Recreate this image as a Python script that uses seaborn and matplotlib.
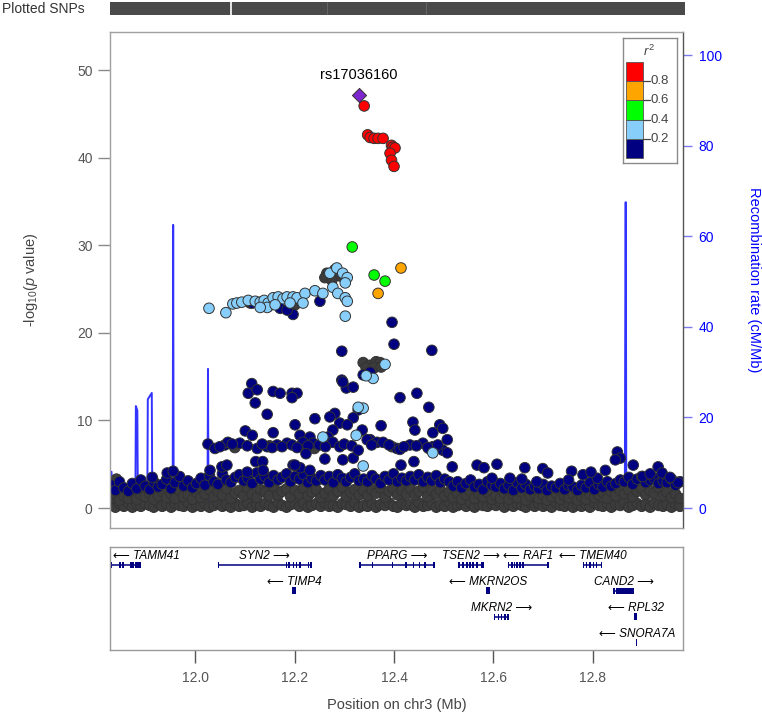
import matplotlib
matplotlib.use("Agg")
import matplotlib.pyplot as plt
import pandas as pd
import seaborn as sns

# ---------------- data ----------------
lead_snp = "rs17036160"
lead_pos = [12.330]
lead_val = [47.1]

red_pos = [12.340, 12.347, 12.352, 12.360, 12.368, 12.378, 12.395, 12.398, 12.402, 12.392, 12.395, 12.400]
red_val = [45.9, 42.6, 42.3, 42.2, 42.2, 42.2, 41.4, 41.2, 41.1, 40.5, 39.7, 39.0]

orange_pos = [12.414, 12.368]
orange_val = [27.4, 24.5]

green_pos = [12.316, 12.360, 12.382]
green_val = [29.8, 26.6, 25.9]

lblue_pos = [12.028, 12.062, 12.076, 12.084, 12.094, 12.107, 12.121, 12.131, 12.139, 12.147,
             12.157, 12.167, 12.177, 12.185, 12.197, 12.205, 12.221, 12.241, 12.257, 12.217,
             12.145, 12.131, 12.191, 12.161, 12.271, 12.285, 12.297, 12.306, 12.277, 12.287,
             12.302, 12.306, 12.302, 12.302, 12.382, 12.358, 12.344, 12.338, 12.257, 12.324,
             12.338, 12.478, 12.328]
lblue_val = [22.8, 22.3, 23.3, 23.4, 23.5, 23.7, 23.6, 23.5, 23.7, 23.4,
             24.0, 24.1, 23.9, 24.1, 24.1, 24.0, 24.5, 24.8, 24.5, 23.4,
             22.9, 22.9, 23.4, 23.2, 26.8, 27.4, 26.8, 26.3, 25.2, 24.5,
             24.0, 23.6, 21.9, 25.7, 16.4, 14.8, 15.1, 11.4, 8.1, 8.3,
             4.8, 6.3, 11.5]

navy_pos = [12.115, 12.171, 12.197, 12.185, 12.251, 12.396, 12.295, 12.400, 12.476, 12.295,
            12.304, 12.338, 12.352,
            12.114, 12.107, 12.125, 12.121, 12.157, 12.171, 12.195, 12.205, 12.195, 12.145,
            12.297, 12.318, 12.328, 12.281, 12.271, 12.318, 12.241, 12.201, 12.291, 12.306,
            12.412, 12.446, 12.470, 12.374, 12.438, 12.442, 12.492, 12.498, 12.478, 12.507,
            12.101, 12.115, 12.157, 12.211, 12.231, 12.277, 12.267, 12.336, 12.352,
            12.026, 12.040, 12.060, 12.066, 12.090, 12.125, 12.145, 12.165, 12.185, 12.217,
            12.237, 12.277, 12.291, 12.346, 12.366, 12.378, 12.406, 12.412, 12.432, 12.458,
            12.478, 12.498, 12.507, 12.050, 12.075, 12.105, 12.135, 12.155, 12.175, 12.195,
            12.205, 12.227, 12.250, 12.262, 12.300, 12.315, 12.355, 12.390, 12.420, 12.445,
            12.468, 12.488,
            12.223, 12.122, 12.136, 12.197, 12.211, 12.231, 12.261, 12.297, 12.318, 12.328,
            12.414, 12.440, 12.517, 12.567, 12.581, 12.607, 12.663, 12.699, 12.709, 12.757,
            12.657, 12.597, 12.633, 12.687, 12.751, 12.809,
            11.914, 11.944, 11.956, 12.030, 12.054, 12.064, 12.105, 12.137, 12.201,
            12.849, 12.855, 12.845, 12.881, 12.931, 12.939, 12.971, 12.825, 12.780, 12.796,
            12.900, 12.915, 12.955]
navy_val = [23.4, 22.8, 22.1, 22.6, 23.6, 21.2, 17.9, 18.7, 18.0, 14.6,
            13.7, 15.2, 15.5,
            14.2, 13.1, 13.5, 12.0, 13.3, 13.1, 13.1, 13.1, 12.6, 10.7,
            14.4, 13.8, 11.2, 10.8, 10.4, 10.3, 10.2, 9.5, 9.7, 9.5,
            12.6, 13.1, 11.5, 9.4, 9.8, 8.9, 9.5, 9.1, 8.6, 7.8,
            8.8, 8.3, 8.6, 8.3, 8.1, 8.9, 8.1, 8.9, 7.8,
            7.3, 6.8, 7.2, 7.5, 7.4, 6.8, 7.0, 7.2, 7.4, 7.5,
            7.4, 7.5, 7.0, 7.8, 7.5, 7.5, 6.8, 6.7, 7.2, 7.4,
            7.0, 6.6, 6.3, 7.0, 7.3, 7.1, 7.3, 6.9, 7.0, 7.2,
            6.9, 7.1, 7.2, 7.0, 7.3, 7.1, 7.2, 7.2, 7.0, 7.1,
            6.9, 7.2,
            6.2, 5.3, 5.3, 4.9, 4.6, 4.3, 5.6, 5.5, 5.7, 6.6,
            4.9, 5.3, 4.7, 4.9, 4.6, 5.0, 4.6, 4.5, 4.0, 4.2,
            3.3, 3.4, 3.4, 3.0, 3.2, 3.4,
            3.5, 4.0, 4.2, 4.3, 4.7, 4.9, 4.1, 4.3, 4.9,
            6.4, 5.7, 5.5, 4.9, 4.7, 4.0, 2.9, 4.3, 3.8, 4.1,
            3.6, 3.9, 3.5]

na_pos = [12.265, 12.281, 12.291, 12.261, 12.275, 12.338, 12.352, 12.364, 12.372, 12.344,
          12.360, 12.374, 12.111, 12.147, 12.201, 12.080, 12.150, 12.210, 12.240, 12.396,
          12.470, 11.842]
na_val = [26.8, 27.2, 26.5, 26.3, 26.0, 16.6, 16.3, 16.7, 16.6, 16.0,
          16.0, 16.1, 23.4, 23.0, 23.2, 6.9, 7.1, 7.0, 6.8, 7.0,
          6.8, 3.3]

# dense band of weak SNPs along the bottom
band_pos = [11.832, 11.840, 11.848, 11.857, 11.866, 11.874, 11.883, 11.891, 11.900, 11.909,
            11.917, 11.926, 11.934, 11.943, 11.952, 11.960, 11.969, 11.977, 11.986, 11.995,
            12.003, 12.012, 12.020, 12.029, 12.038, 12.046, 12.055, 12.063, 12.072, 12.081,
            12.089, 12.098, 12.106, 12.115, 12.124, 12.132, 12.141, 12.149, 12.158, 12.167,
            12.175, 12.184, 12.192, 12.201, 12.210, 12.218, 12.227, 12.235, 12.244, 12.253,
            12.261, 12.270, 12.278, 12.287, 12.296, 12.304, 12.313, 12.321, 12.330, 12.339,
            12.347, 12.356, 12.364, 12.373, 12.382, 12.390, 12.399, 12.407, 12.416, 12.425,
            12.433, 12.442, 12.450, 12.459, 12.468, 12.476, 12.485, 12.493, 12.502, 12.511,
            12.519, 12.528, 12.536, 12.545, 12.554, 12.562, 12.571, 12.579, 12.588, 12.597,
            12.605, 12.614, 12.622, 12.631, 12.640, 12.648, 12.657, 12.665, 12.674, 12.683,
            12.691, 12.700, 12.708, 12.717, 12.726, 12.734, 12.743, 12.751, 12.760, 12.769,
            12.777, 12.786, 12.794, 12.803, 12.812, 12.820, 12.829, 12.837, 12.846, 12.855,
            12.863, 12.872, 12.880, 12.889, 12.898, 12.906, 12.915, 12.923, 12.932, 12.941,
            12.949, 12.958, 12.966, 12.975]
band_low = [0.3, 0.1, 0.5, 0.2, 0.6, 0.1, 0.4, 0.2, 0.5, 0.3,
            0.1, 0.6, 0.2, 0.4, 0.1, 0.5, 0.3, 0.2, 0.6, 0.1,
            0.4, 0.2, 0.5, 0.1, 0.3, 0.6, 0.2, 0.4, 0.1, 0.5,
            0.2, 0.3, 0.6, 0.1, 0.4, 0.2, 0.5, 0.3, 0.1, 0.6,
            0.3, 0.1, 0.4, 0.5, 0.2, 0.6, 0.1, 0.3, 0.5, 0.2,
            0.6, 0.2, 0.3, 0.1, 0.5, 0.4, 0.2, 0.6, 0.1, 0.3,
            0.2, 0.5, 0.1, 0.4, 0.3, 0.6, 0.2, 0.1, 0.5, 0.3,
            0.4, 0.1, 0.6, 0.2, 0.3, 0.5, 0.1, 0.4, 0.2, 0.6,
            0.1, 0.3, 0.5, 0.2, 0.6, 0.1, 0.4, 0.3, 0.2, 0.5,
            0.3, 0.6, 0.1, 0.4, 0.2, 0.5, 0.3, 0.1, 0.6, 0.2,
            0.5, 0.2, 0.4, 0.1, 0.6, 0.3, 0.2, 0.5, 0.1, 0.4,
            0.2, 0.4, 0.1, 0.6, 0.3, 0.2, 0.5, 0.1, 0.4, 0.3,
            0.6, 0.1, 0.3, 0.5, 0.2, 0.4, 0.1, 0.6, 0.3, 0.2,
            0.4, 0.1, 0.5, 0.2]
band_mid = [1.2, 1.6, 0.9, 1.4, 1.1, 1.8, 1.0, 1.5, 1.3, 1.7,
            1.0, 1.4, 1.9, 1.2, 1.6, 1.1, 2.0, 1.3, 1.5, 1.0,
            1.8, 1.2, 1.6, 2.1, 1.3, 1.9, 1.5, 2.2, 1.1, 1.7,
            2.0, 1.4, 2.3, 1.6, 1.2, 2.1, 1.8, 1.4, 2.4, 1.5,
            1.9, 2.2, 1.3, 2.0, 1.6, 2.3, 1.4, 1.8, 2.1, 1.2,
            1.7, 2.2, 1.4, 1.9, 2.4, 1.3, 1.8, 2.1, 1.5, 2.0,
            1.4, 2.1, 1.7, 2.3, 1.2, 1.9, 2.2, 1.5, 2.0, 1.6,
            2.2, 1.5, 1.9, 2.4, 1.3, 2.0, 1.6, 2.1, 1.4, 1.8,
            1.2, 1.7, 1.0, 1.5, 1.9, 1.1, 1.6, 1.3, 1.8, 1.0,
            1.4, 1.1, 1.7, 1.0, 1.5, 1.2, 1.8, 0.9, 1.4, 1.6,
            1.1, 1.5, 0.9, 1.3, 1.7, 1.0, 1.4, 1.2, 1.6, 0.9,
            1.3, 1.0, 1.6, 1.2, 1.5, 1.8, 1.1, 1.9, 1.4, 2.0,
            1.6, 2.1, 1.3, 1.9, 2.2, 1.5, 2.0, 1.7, 2.3, 1.4,
            1.8, 1.2, 1.6, 1.1]
band_top = [2.6, 2.0, 3.0, 2.3, 1.9, 2.8, 2.2, 3.2, 2.5, 2.1,
            3.0, 2.4, 2.7, 3.3, 2.2, 2.9, 3.6, 2.5, 3.1, 2.3,
            2.8, 3.4, 2.6, 3.7, 3.0, 2.7, 3.9, 3.2, 2.9, 3.5,
            3.8, 3.1, 3.4, 2.8, 4.0, 3.3, 3.6, 2.9, 3.7, 3.2,
            3.5, 3.9, 3.0, 3.6, 3.3, 3.8, 2.9, 3.4, 3.1, 3.7,
            3.2, 3.6, 2.9, 3.8, 3.4, 3.0, 3.5, 3.9, 3.1, 3.3,
            3.0, 3.7, 3.3, 2.8, 3.6, 3.2, 3.9, 3.0, 3.4, 3.1,
            3.6, 3.2, 3.8, 3.0, 3.5, 3.1, 3.7, 2.9, 3.3, 3.0,
            2.5, 3.0, 2.3, 2.8, 3.2, 2.4, 2.7, 2.1, 3.0, 2.6,
            2.4, 2.8, 2.2, 2.6, 2.0, 2.9, 2.3, 2.7, 2.1, 2.5,
            2.2, 2.7, 2.0, 2.5, 2.3, 2.8, 2.1, 2.6, 2.4, 2.0,
            2.6, 2.3, 2.9, 2.1, 2.7, 2.4, 3.0, 2.5, 2.8, 3.2,
            3.0, 3.5, 2.7, 3.3, 3.6, 2.9, 3.2, 3.4, 2.8, 3.1,
            2.9, 3.3, 2.6, 3.0]

# recombination rate (cM/Mb)
rec_pos = [11.829, 11.832, 11.833, 11.870, 11.880, 11.881, 11.884, 11.885, 11.904, 11.905,
           11.913, 11.914, 11.940, 11.955, 11.956, 11.957, 11.990, 12.025, 12.026, 12.027,
           12.150, 12.300, 12.450, 12.600, 12.750, 12.864, 12.8655, 12.866, 12.8665, 12.867,
           12.920, 12.981]
rec_rate = [8.0, 8.0, 1.0, 0.8, 1.0, 22.5, 21.5, 1.0, 1.0, 24.0,
            25.4, 1.0, 0.6, 1.0, 62.5, 1.0, 0.8, 1.0, 30.7, 1.0,
            0.5, 0.7, 0.6, 0.8, 0.5, 1.2, 67.5, 67.5, 36.6, 1.0,
            0.8, 0.6]

# genes
gene_name = ["TAMM41", "SYN2", "TIMP4", "PPARG", "TSEN2", "RAF1",
             "TMEM40", "MKRN2OS", "CAND2", "MKRN2", "RPL32", "SNORA7A"]
gene_start = [11.831, 12.047, 12.197, 12.332, 12.531, 12.630, 12.781, 12.587, 12.843, 12.602, 12.884, 12.8876]
gene_end = [11.889, 12.233, 12.201, 12.480, 12.579, 12.710, 12.817, 12.591, 12.881, 12.629, 12.888, 12.8884]
gene_row = [0, 0, 1, 0, 0, 0, 0, 1, 1, 2, 2, 3]
gene_strand = ["-", "+", "-", "+", "+", "-", "-", "-", "+", "+", "-", "-"]
gene_exons = [
    [11.831, 11.849, 11.855, 11.871, 11.875, 11.881, 11.885, 11.889],
    [12.047, 12.184, 12.189, 12.198, 12.204, 12.211, 12.228, 12.233],
    [12.199],
    [12.332, 12.357, 12.397, 12.424, 12.439, 12.451, 12.462, 12.480],
    [12.531, 12.538, 12.546, 12.553, 12.559, 12.567, 12.576, 12.579],
    [12.630, 12.637, 12.642, 12.647, 12.653, 12.659, 12.710],
    [12.781, 12.787, 12.794, 12.801, 12.807, 12.817],
    [12.589],
    [12.843, 12.848, 12.852, 12.856, 12.860, 12.864, 12.868, 12.872, 12.876, 12.881],
    [12.602, 12.610, 12.616, 12.623, 12.629],
    [12.886],
    [12.888],
]

snp_track_start, snp_track_end = 11.829, 12.985
snp_track_gaps = [12.072]
snp_track_seams = [12.265, 12.464]

r2_bins = [0.0, 0.2, 0.4, 0.6, 0.8, 1.0]
r2_colors = ["#000080", "#87CEFA", "#00FF00", "#FFA500", "#FF0000"]
x_ticks = [12.0, 12.2, 12.4, 12.6, 12.8]

# ---------------- style ----------------
sns.set_style("white")
plt.rcParams["font.family"] = ["Liberation Sans", "DejaVu Sans"]
plt.rcParams["mathtext.fontset"] = "custom"
plt.rcParams["mathtext.rm"] = "Liberation Sans"
plt.rcParams["mathtext.it"] = "Liberation Sans:italic"

W, H = 762, 715
fig = plt.figure(figsize=(W / 100, H / 100), dpi=100)


def box(x0, y0, x1, y1):
    return [x0 / W, 1 - y1 / H, (x1 - x0) / W, (y1 - y0) / H]


xlim = (11.829, 12.981)

# ---------------- plotted SNPs track ----------------
ax_t = fig.add_axes(box(110, 2, 685, 15))
ax_t.axvspan(snp_track_start, snp_track_end, color="#4a4a4a", lw=0)
for g in snp_track_gaps:
    ax_t.axvline(g, color="white", lw=1.2)
for g in snp_track_seams:
    ax_t.axvline(g, color="#6a6a6a", lw=0.6)
ax_t.set_xlim(11.829, 12.985)
ax_t.axis("off")
fig.text(2 / W, 1 - 9 / H, "Plotted SNPs", fontsize=10, color="#333333", ha="left", va="center")

# ---------------- main association panel ----------------
ax = fig.add_axes(box(110, 32, 683, 528))
ax_rec = ax.twinx()
ax.set_zorder(ax_rec.get_zorder() + 1)
ax.patch.set_visible(False)

rec = pd.DataFrame({"pos": rec_pos, "rate": rec_rate})
sns.lineplot(data=rec, x="pos", y="rate", ax=ax_rec, color="#3333ff", lw=1.4,
             estimator=None, sort=False)

groups = [("NA", na_pos, na_val),
          ("NA", band_pos, band_low),
          ("NA", band_pos, band_mid),
          ("0.0", band_pos, band_top),
          ("0.0", navy_pos, navy_val),
          ("0.2", lblue_pos, lblue_val),
          ("0.4", green_pos, green_val),
          ("0.6", orange_pos, orange_val),
          ("0.8", red_pos, red_val)]
snps = pd.concat([pd.DataFrame({"pos": p, "logp": v, "ld": k}) for k, p, v in groups],
                 ignore_index=True)
palette = {"NA": "#3c3c3c", "0.0": r2_colors[0], "0.2": r2_colors[1],
           "0.4": r2_colors[2], "0.6": r2_colors[3], "0.8": r2_colors[4]}
sns.scatterplot(data=snps, x="pos", y="logp", hue="ld", palette=palette, s=58,
                edgecolor="#333333", linewidth=0.7, legend=False, ax=ax)
sns.scatterplot(x=lead_pos, y=lead_val, marker="D", s=52, color="#7D26CD",
                edgecolor="#333333", linewidth=0.7, legend=False, ax=ax)
ax.text(lead_pos[0], lead_val[0] + 2.3, lead_snp, ha="center", va="center", fontsize=10.5,
        color="black")

ax.set_xlim(*xlim)
ax.set_ylim(-2.28, 54.34)
ax_rec.set_ylim(-4.415, 105.08)
ax.set_xticks([])
ax.set_yticks([0, 10, 20, 30, 40, 50])
ax_rec.set_yticks([0, 20, 40, 60, 80, 100])
ax.set_xlabel("")
ax.set_ylabel(r"-log$_{10}$($p$ value)", fontsize=10.5, color="#444444")
ax.yaxis.set_label_coords(-0.122, 0.5)
ax_rec.set_ylabel("Recombination rate (cM/Mb)", fontsize=10.5, color="#0000ff", rotation=270,
                  va="center")
ax_rec.yaxis.set_label_coords(1.124, 0.5)
ax_rec.set_xlabel("")

ax.tick_params(axis="y", direction="out", length=8.5, width=1, color="#8a8a8a",
               labelcolor="#555555", labelsize=10, pad=4, left=True)
ax_rec.tick_params(axis="y", direction="out", length=6.3, width=1, color="#7a7aee",
                   labelcolor="#0000ff", labelsize=10, pad=5, right=True)
for s in ["left", "top", "bottom"]:
    ax.spines[s].set_color("#a0a0a0")
    ax.spines[s].set_linewidth(1)
ax.spines["right"].set_visible(False)
for s in ["left", "top", "bottom"]:
    ax_rec.spines[s].set_visible(False)
ax_rec.spines["right"].set_color("#555555")
ax_rec.spines["right"].set_linewidth(1)

# ---------------- r2 legend ----------------
ax_l = fig.add_axes(box(623, 38, 677, 163))
ax_l.set_xlim(0, 54)
ax_l.set_ylim(-5 / 96, 120 / 96)
ax_l.bar(x=11.5, height=[b1 - b0 for b0, b1 in zip(r2_bins[:-1], r2_bins[1:])],
         bottom=r2_bins[:-1], width=17, color=r2_colors, edgecolor="#555555", linewidth=0.6)
for b in r2_bins[1:-1]:
    ax_l.plot([20, 27], [b, b], color="#444444", lw=0.9)
    ax_l.text(27.5, b, f"{b:.1f}", fontsize=9.5, color="#444444", ha="left", va="center")
ax_l.text(26, 1.115, r"$r^2$", fontsize=9.5, color="#444444", ha="center", va="center")
ax_l.set_xticks([])
ax_l.set_yticks([])
for s in ax_l.spines.values():
    s.set_color("#8a8a8a")
    s.set_linewidth(1)
ax_l.set_facecolor("white")

# ---------------- gene panel ----------------
ax_g = fig.add_axes(box(110, 547, 683, 650))
ax_g.set_xlim(*xlim)
ax_g.set_ylim(650, 547)
navy = "#000080"
gene_texts = []
for name, st, en, row, strand, exons in zip(gene_name, gene_start, gene_end, gene_row,
                                            gene_strand, gene_exons):
    y_line = 565 + 26 * row
    y_text = 556 + 26 * row
    ax_g.plot([st, en], [y_line, y_line], color=navy, lw=1.1, solid_capstyle="butt")
    if name.startswith("SNORA"):
        w, h = 0.0012, 7
    elif len(exons) == 1:
        w, h = 0.007, 7
    else:
        w, h = 0.0035, 6
    ax_g.bar(x=exons, height=h, bottom=y_line - h / 2, width=w, color=navy, linewidth=0)
    label = f"\u27f5 {name}" if strand == "-" else f"{name} \u27f6"
    t = ax_g.text((st + en) / 2, y_text, label, fontsize=8.5, style="italic", ha="center",
                  va="center", color="black")
    gene_texts.append(t)

ax_g.set_xticks(x_ticks)
ax_g.set_xticklabels([f"{v:.1f}" for v in x_ticks])
ax_g.set_yticks([])
ax_g.tick_params(axis="x", direction="out", length=9, width=1, color="#555555",
                 labelcolor="#555555", labelsize=10, pad=6, bottom=True)
ax_g.set_xlabel("Position on chr3 (Mb)", fontsize=10.5, color="#444444")
ax_g.xaxis.set_label_coords(0.5, -0.47)
for s in ax_g.spines.values():
    s.set_color("#999999")
    s.set_linewidth(1)

# keep gene labels inside the panel
fig.canvas.draw()
renderer = fig.canvas.get_renderer()
gbb = ax_g.get_window_extent(renderer)
px_per_mb = gbb.width / (xlim[1] - xlim[0])
for t in gene_texts:
    bb = t.get_window_extent(renderer)
    x, y = t.get_position()
    if bb.x0 < gbb.x0 + 3:
        t.set_position((x + (gbb.x0 + 3 - bb.x0) / px_per_mb, y))
    elif bb.x1 > gbb.x1 - 3:
        t.set_position((x - (bb.x1 - gbb.x1 + 3) / px_per_mb, y))

fig.savefig("out.png", dpi=100)
